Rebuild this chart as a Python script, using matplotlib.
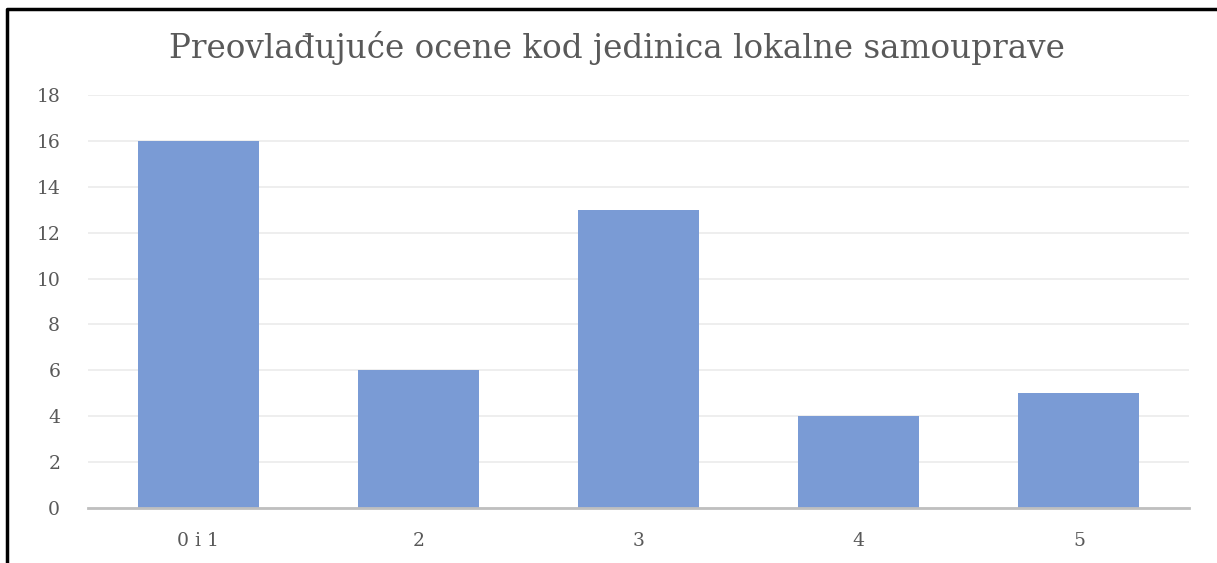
import matplotlib
matplotlib.use('Agg')
import matplotlib.pyplot as plt
from matplotlib.lines import Line2D

plt.rcParams.update({
    'font.family': 'serif',
    'font.serif': ['DejaVu Serif', 'Liberation Serif'],
})

categories = ['0 i 1', '2', '3', '4', '5']
counts = [16, 6, 13, 4, 5]
yticks = list(range(0, 19, 2))

W, H = 1217, 563
fig = plt.figure(figsize=(W / 100, H / 100), dpi=100)
ax = fig.add_axes([88 / W, 1 - 508 / H, (1189 - 88) / W, (508 - 95) / H])

x = range(len(categories))
ax.bar(x, counts, width=0.55, color='#7a9bd5', zorder=3)

ax.set_xlim(-0.5, len(categories) - 0.5)
ax.set_ylim(0, 18)
ax.set_yticks(yticks)
ax.set_xticks(list(x))
ax.set_xticklabels(categories)
ax.grid(axis='y', color='#ebebeb', linewidth=1.2, zorder=0)
ax.tick_params(length=0, labelsize=13.5, colors='#595959')
ax.tick_params(axis='x', pad=17)
ax.tick_params(axis='y', pad=20)
for side in ['top', 'right', 'left']:
    ax.spines[side].set_visible(False)
ax.spines['bottom'].set_color('#bfbfbf')
ax.spines['bottom'].set_linewidth(2)
ax.spines['bottom'].set_zorder(4)

fig.text(617 / W, 1 - 48 / H, 'Preovlađujuće ocene kod jedinica lokalne samouprave',
         ha='center', va='center', fontsize=23.5, color='#595959')

# frame (left and top edges only, as in the source image)
fx = 7 / W
fy = 1 - 9 / H
fig.add_artist(Line2D([fx, fx, 1], [0, fy, fy], transform=fig.transFigure,
                      color='black', linewidth=2.5))

fig.savefig('out.png', dpi=100)
plt.close()
